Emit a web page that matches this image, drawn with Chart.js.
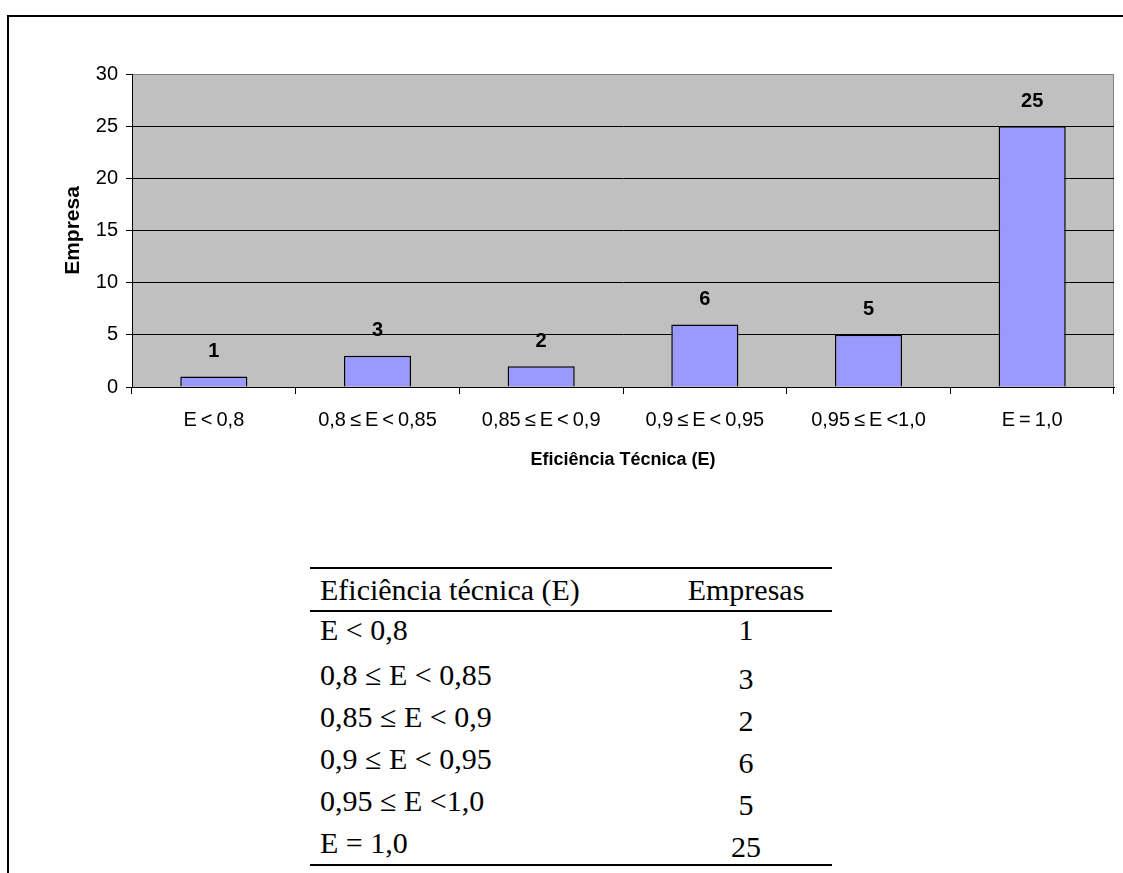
<!DOCTYPE html>
<html lang="pt">
<head>
<meta charset="utf-8">
<title>Eficiência Técnica (E)</title>
<script src="https://cdn.jsdelivr.net/npm/chart.js@4.4.1/dist/chart.umd.min.js"></script>
<style>
  html, body { margin: 0; padding: 0; background: #fff; overflow: hidden; }
  body { width: 1123px; height: 873px; position: relative; }
  #moldura { position: absolute; left: 7px; top: 15px; width: 1300px; height: 1000px;
             border-top: 2px solid #000; border-left: 2px solid #000; }
  #grafico { position: absolute; left: 0; top: 0; }
  #tabela { position: absolute; left: 310px; top: 567px; width: 522px;
            font-family: 'Liberation Serif', 'Times New Roman', serif; font-size: 30px; color: #000; }
  .regra { height: 2px; background: #000; }
  .linha { display: flex; align-items: center; height: 42px; }
  .cab { height: 41px; }
  .linha span { line-height: 1; position: relative; white-space: nowrap; }
  .c1 { width: 340px; padding-left: 10px; }
  .c2 { width: 172px; text-align: center; }
  #corpo .linha:first-child span { top: -3px; }
  #corpo .linha:not(:first-child) .c2 { top: 4px; }
</style>
</head>
<body>
<div id="moldura"></div>
<canvas id="grafico" width="1123" height="480"></canvas>

<div id="tabela">
  <div class="regra"></div>
  <div class="linha cab"><span class="c1" id="cabFaixa"></span><span class="c2" id="cabEmpresas"></span></div>
  <div class="regra"></div>
  <div id="corpo"></div>
  <div class="regra"></div>
</div>

<script>
// Faixas de eficiência técnica e número de empresas em cada faixa
const faixas = ['E < 0,8', '0,8 ≤ E < 0,85', '0,85 ≤ E < 0,9', '0,9 ≤ E < 0,95', '0,95 ≤ E <1,0', 'E = 1,0'];
const empresas = [1, 3, 2, 6, 5, 25];
const marcasY = [0, 5, 10, 15, 20, 25, 30];

const tituloX = 'Eficiência Técnica (E)';
const tituloY = 'Empresa';
const cabecalhoTabela = ['Eficiência técnica (E)', 'Empresas'];

// Tabela abaixo do gráfico
document.getElementById('cabFaixa').textContent = cabecalhoTabela[0];
document.getElementById('cabEmpresas').textContent = cabecalhoTabela[1];
const corpo = document.getElementById('corpo');
faixas.forEach((f, i) => {
  const linha = document.createElement('div');
  linha.className = 'linha';
  const a = document.createElement('span'); a.className = 'c1'; a.textContent = f;
  const b = document.createElement('span'); b.className = 'c2'; b.textContent = String(empresas[i]);
  linha.appendChild(a); linha.appendChild(b);
  corpo.appendChild(linha);
});

// Fundo cinza e moldura da área de plotagem
const fundoArea = {
  id: 'fundoArea',
  beforeDraw(chart) {
    const { ctx, chartArea: a } = chart;
    ctx.save();
    ctx.fillStyle = '#C0C0C0';
    ctx.fillRect(a.left, a.top, a.right - a.left, a.bottom - a.top);
    ctx.strokeStyle = '#808080';
    ctx.lineWidth = 1;
    ctx.strokeRect(Math.round(a.left) + 0.5, Math.round(a.top) + 0.5,
                   Math.round(a.right - a.left) - 1, Math.round(a.bottom - a.top));
    ctx.restore();
  }
};

// Valor escrito acima de cada barra
const rotulosValor = {
  id: 'rotulosValor',
  afterDatasetsDraw(chart) {
    const { ctx } = chart;
    const meta = chart.getDatasetMeta(0);
    ctx.save();
    ctx.font = 'bold 20px "Liberation Sans", Arial, sans-serif';
    ctx.fillStyle = '#000';
    ctx.textAlign = 'center';
    ctx.textBaseline = 'middle';
    meta.data.forEach((barra, i) => {
      ctx.fillText(String(chart.data.datasets[0].data[i]), barra.x, barra.y - 25);
    });
    ctx.restore();
  }
};

const fonte = '"Liberation Sans", Arial, sans-serif';

new Chart(document.getElementById('grafico'), {
  type: 'bar',
  data: {
    labels: faixas,
    datasets: [{
      data: empresas,
      backgroundColor: '#9999FF',
      borderColor: '#000',
      borderWidth: 1.5,
      borderSkipped: 'start',
      categoryPercentage: 1,
      barPercentage: 0.41
    }]
  },
  options: {
    responsive: false,
    animation: false,
    devicePixelRatio: 1,
    layout: { padding: { left: 61, top: 74, right: 9, bottom: 9 } },
    plugins: {
      legend: { display: false },
      tooltip: { enabled: false },
      title: { display: false }
    },
    scales: {
      x: {
        afterFit(s) { s.height = 84; },
        grid: {
          display: true, drawOnChartArea: false, drawTicks: true,
          tickLength: 7, color: '#000', tickColor: '#000', offset: true
        },
        border: { display: true, color: '#000', width: 1 },
        ticks: {
          color: '#000', padding: 14, maxRotation: 0, autoSkip: false,
          font: { family: fonte, size: 20 },
          callback(v, i) { return faixas[i].replace(/ /g, '\u2009'); }
        },
        title: {
          display: true, text: tituloX, color: '#000',
          font: { family: fonte, size: 18, weight: 'bold' },
          padding: { top: 0, bottom: 0 }
        }
      },
      y: {
        min: marcasY[0],
        max: marcasY[marcasY.length - 1],
        afterFit(s) { s.width = 71; },
        afterBuildTicks(s) { s.ticks = marcasY.map(v => ({ value: v })); },
        grid: {
          color: c => (c.tick && c.tick.value === marcasY[marcasY.length - 1]) ? '#808080' : '#000',
          tickColor: '#000', tickLength: 6, lineWidth: 1
        },
        border: { display: true, color: '#000', width: 1 },
        ticks: {
          color: '#000', padding: 8,
          font: { family: fonte, size: 20 }
        },
        title: {
          display: true, text: tituloY, color: '#000',
          font: { family: fonte, size: 21, weight: 'bold' },
          padding: { top: 0, bottom: 0 }
        }
      }
    }
  },
  plugins: [fundoArea, rotulosValor]
});
</script>
</body>
</html>
